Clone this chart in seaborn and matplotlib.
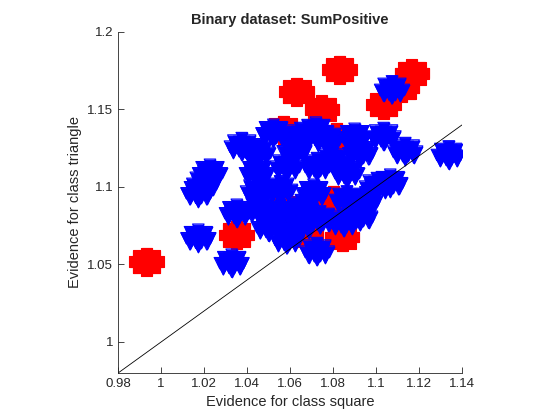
import numpy as np
import pandas as pd
import matplotlib
matplotlib.use("Agg")
import matplotlib.pyplot as plt
import seaborn as sns

# cluster centres (evidence square, evidence triangle)
red_cx = [0.9932, 1.0830, 1.0631, 1.0748, 1.1167, 1.1035, 1.1120, 1.0350,
          1.0842, 1.0675, 1.0568, 1.0818, 1.0585, 1.0800]
red_cy = [1.0518, 1.1755, 1.1615, 1.1500, 1.1734, 1.1529, 1.1640, 1.0690,
          1.0677, 1.0690, 1.1370, 1.1325, 1.0865, 1.0916]

blue_cx = [1.0328, 1.0173, 1.0173, 1.0227, 1.0375, 1.0725, 1.1035, 1.1136,
           1.1338, 1.1074, 1.0352, 1.0460, 1.0585, 1.0553, 1.0445, 1.0522,
           1.0647, 1.0771, 1.0926, 1.0585, 1.0725, 1.0864, 1.1004, 1.0553,
           1.0709, 1.0864, 1.0926, 1.0740, 1.0647, 1.1066,
           1.0450, 1.0620, 1.0800, 1.0650, 1.0500, 1.0950, 1.0850, 1.0720,
           1.0900, 1.0450, 1.0200]
blue_cy = [1.0508, 1.0669, 1.0959, 1.1088, 1.1260, 1.0583, 1.1325, 1.1228,
           1.1206, 1.1626, 1.0830, 1.0852, 1.0658, 1.0830, 1.1088, 1.1346,
           1.1325, 1.1303, 1.1217, 1.1131, 1.1131, 1.1088, 1.1002, 1.0981,
           1.0959, 1.0916, 1.0808, 1.0787, 1.0744, 1.1024,
           1.1220, 1.1230, 1.1170, 1.0860, 1.0740, 1.0910, 1.0770, 1.1360,
           1.1320, 1.0970, 1.1020]

# spread of the points inside one cluster (x and y, in 0.001 units)
spread_dx = [0, 5.5, 3.9, 0, -3.9, -5.5, -3.9, 0, 3.9,
             3.0, 1.2, -1.2, -3.0, -3.0, -1.2, 1.2, 3.0]
spread_dy = [0, 0, 3.9, 5.5, 3.9, 0, -3.9, -5.5, -3.9,
             1.2, 3.0, 3.0, 1.2, -1.2, -3.0, -3.0, -1.2]

xticks = [0.98, 1.0, 1.02, 1.04, 1.06, 1.08, 1.1, 1.12, 1.14]
yticks = [1.0, 1.05, 1.1, 1.15, 1.2]


def build(cx, cy, label):
    rows = []
    for x0, y0 in zip(cx, cy):
        for dx, dy in zip(spread_dx, spread_dy):
            rows.append((x0 + dx / 1000, y0 + dy / 1000, label))
    return pd.DataFrame(rows, columns=["square", "triangle", "cls"])


def main():
    sns.set_style("white")
    plt.rcParams["font.family"] = ["Liberation Sans", "DejaVu Sans"]

    red = build(red_cx, red_cy, "square")
    blue = build(blue_cx, blue_cy, "triangle")

    fig = plt.figure(figsize=(5.6, 4.2), dpi=100)
    ax = fig.add_axes([0.211, 0.112, 0.614, 0.812])

    # filled core + hollow outlines so the blobs look like packed markers
    sns.scatterplot(data=red, x="square", y="triangle", marker="s", s=55,
                    color="#ff0000", edgecolor="#ff0000", linewidth=0.8, ax=ax, legend=False)
    sns.scatterplot(data=red, x="square", y="triangle", marker="s", s=62,
                    facecolor="none", edgecolor="#ff0000", linewidth=0.8, ax=ax, legend=False)
    sns.scatterplot(data=blue, x="square", y="triangle", marker="v", s=60,
                    color="#0000ff", edgecolor="#0000ff", linewidth=0.8, ax=ax, legend=False)
    sns.scatterplot(data=blue, x="square", y="triangle", marker="v", s=68,
                    facecolor="none", edgecolor="#0000ff", linewidth=0.8, ax=ax, legend=False)

    ax.plot([0.98, 1.14], [0.98, 1.14], color="black", linewidth=0.6)

    ax.set_xlim(0.98, 1.14)
    ax.set_ylim(0.98, 1.2)
    ax.set_xticks(xticks)
    ax.set_yticks(yticks)
    ax.set_xticklabels(["%g" % t for t in xticks])
    ax.set_yticklabels(["%g" % t for t in yticks])
    ax.tick_params(direction="in", length=4, width=0.6, colors="#262626",
                   labelsize=9.5, bottom=True, left=True)
    for side in ["top", "right"]:
        ax.spines[side].set_visible(False)
    for side in ["left", "bottom"]:
        ax.spines[side].set_color("#262626")
        ax.spines[side].set_linewidth(0.6)

    ax.set_xlabel("Evidence for class square", fontsize=10.5, color="#262626")
    ax.set_ylabel("Evidence for class triangle", fontsize=10.5, color="#262626")
    ax.set_title("Binary dataset: SumPositive", fontsize=10.5, fontweight="bold")

    fig.savefig("out.png", dpi=100)


if __name__ == "__main__":
    main()
